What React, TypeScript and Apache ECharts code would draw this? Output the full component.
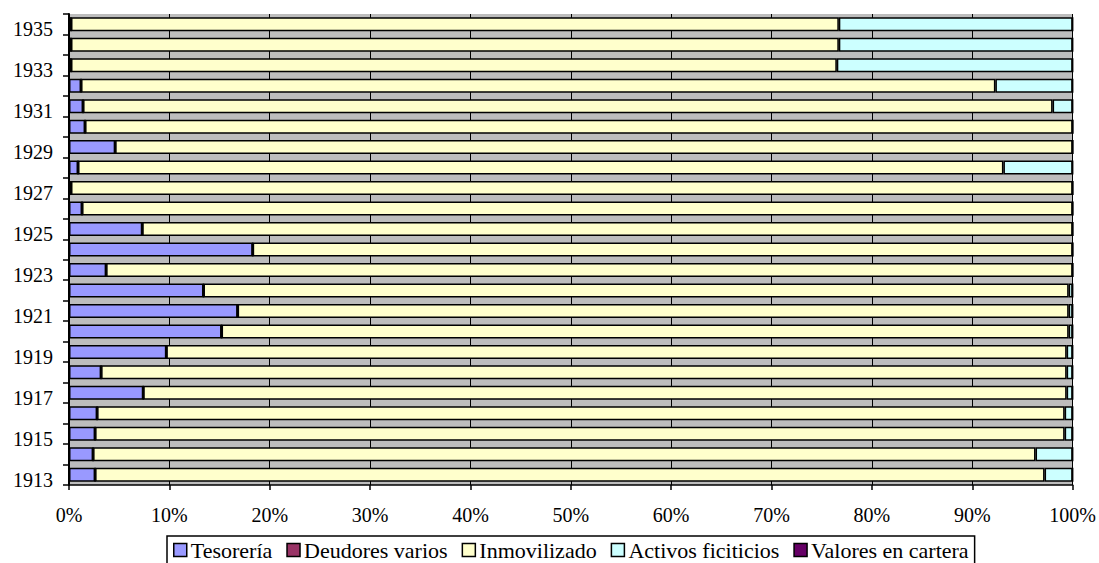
import React, { useEffect, useRef } from "react";
import * as echarts from "echarts";

const years = ["1913","1914","1915","1916","1917","1918","1919","1920","1921","1922","1923","1924","1925","1926","1927","1928","1929","1930","1931","1932","1933","1934","1935"];
const tesoreria = [2.6, 2.4, 2.6, 2.8, 7.4, 3.2, 9.7, 15.2, 16.8, 13.4, 3.7, 18.3, 7.3, 1.3, 0.2, 0.9, 4.6, 1.6, 1.4, 1.2, 0.2, 0.2, 0.2];
const deudores = [0, 0, 0, 0, 0, 0, 0, 0, 0, 0, 0, 0, 0, 0, 0, 0, 0, 0, 0, 0, 0, 0, 0];
const inmovilizado = [94.6, 93.9, 96.6, 96.4, 92.0, 96.2, 89.7, 84.4, 82.8, 86.2, 96.3, 81.7, 92.7, 98.7, 99.8, 92.2, 95.4, 98.4, 96.6, 91.1, 76.3, 76.5, 76.5];
const activos = [2.8, 3.7, 0.8, 0.8, 0.6, 0.6, 0.6, 0.4, 0.4, 0.4, 0, 0, 0, 0, 0, 6.9, 0, 0, 2.0, 7.7, 23.5, 23.3, 23.3];
const valores = [0, 0, 0, 0, 0, 0, 0, 0, 0, 0, 0, 0, 0, 0, 0, 0, 0, 0, 0, 0, 0, 0, 0];

const seriesNames = ["Tesorería", "Deudores varios", "Inmovilizado", "Activos ficiticios", "Valores en cartera"];
const seriesColors = ["#9999ff", "#993366", "#ffffcc", "#ccffff", "#660066"];
const seriesData = [tesoreria, deudores, inmovilizado, activos, valores];

const FONT = "Liberation Serif";

export default function App() {
  const ref = useRef<HTMLDivElement>(null);
  useEffect(() => {
    if (!ref.current) return;
    const chart = echarts.init(ref.current, undefined, { renderer: "svg" });
    chart.setOption({
      animation: false,
      backgroundColor: "#ffffff",
      grid: {
        left: 69,
        right: 26,
        top: 14,
        bottom: 78,
        show: true,
        backgroundColor: "#bdbdbd",
        borderWidth: 0,
      },
      legend: {
        left: 167,
        top: 536,
        orient: "horizontal",
        data: seriesNames,
        itemWidth: 13,
        itemHeight: 13,
        itemGap: 14,
        padding: [3, 6, 3, 6],
        borderColor: "#000",
        borderWidth: 1.5,
        icon: "rect",
        itemStyle: { borderColor: "#000", borderWidth: 1.5 },
        textStyle: { fontFamily: FONT, fontSize: 22, color: "#000", padding: [0, 0, 0, -1] },
      },
      xAxis: {
        type: "value",
        min: 0,
        max: 100,
        interval: 10,
        axisLine: { show: true, lineStyle: { color: "#000", width: 1.5 } },
        axisTick: { show: true, length: 5, lineStyle: { color: "#000", width: 1.5 } },
        axisLabel: { formatter: "{value}%", fontFamily: FONT, fontSize: 20, color: "#000", margin: 20 },
        splitLine: { show: true, lineStyle: { color: "#000", width: 1 } },
      },
      yAxis: {
        type: "category",
        data: years,
        axisLine: { show: true, lineStyle: { color: "#000", width: 2 } },
        axisTick: { show: true, interval: 0, length: 6, lineStyle: { color: "#000", width: 1.5 } },
        axisLabel: {
          interval: 1,
          margin: 16,
          formatter: "{y|{value}}",
          rich: { y: { fontFamily: FONT, fontSize: 20, color: "#000", padding: [10, 0, 0, 0] } },
        },
        splitLine: { show: false },
      },
      series: seriesNames.map((name, i) => ({
        name,
        type: "bar",
        stack: "total",
        data: seriesData[i],
        barWidth: 14,
        itemStyle: { color: seriesColors[i], borderColor: "#000", borderWidth: 1.5 },
      })),
    });
    return () => chart.dispose();
  }, []);
  return (
    <div
      ref={ref}
      style={{ position: "absolute", left: 0, top: 0, width: 1099, height: 563 }}
    />
  );
}
